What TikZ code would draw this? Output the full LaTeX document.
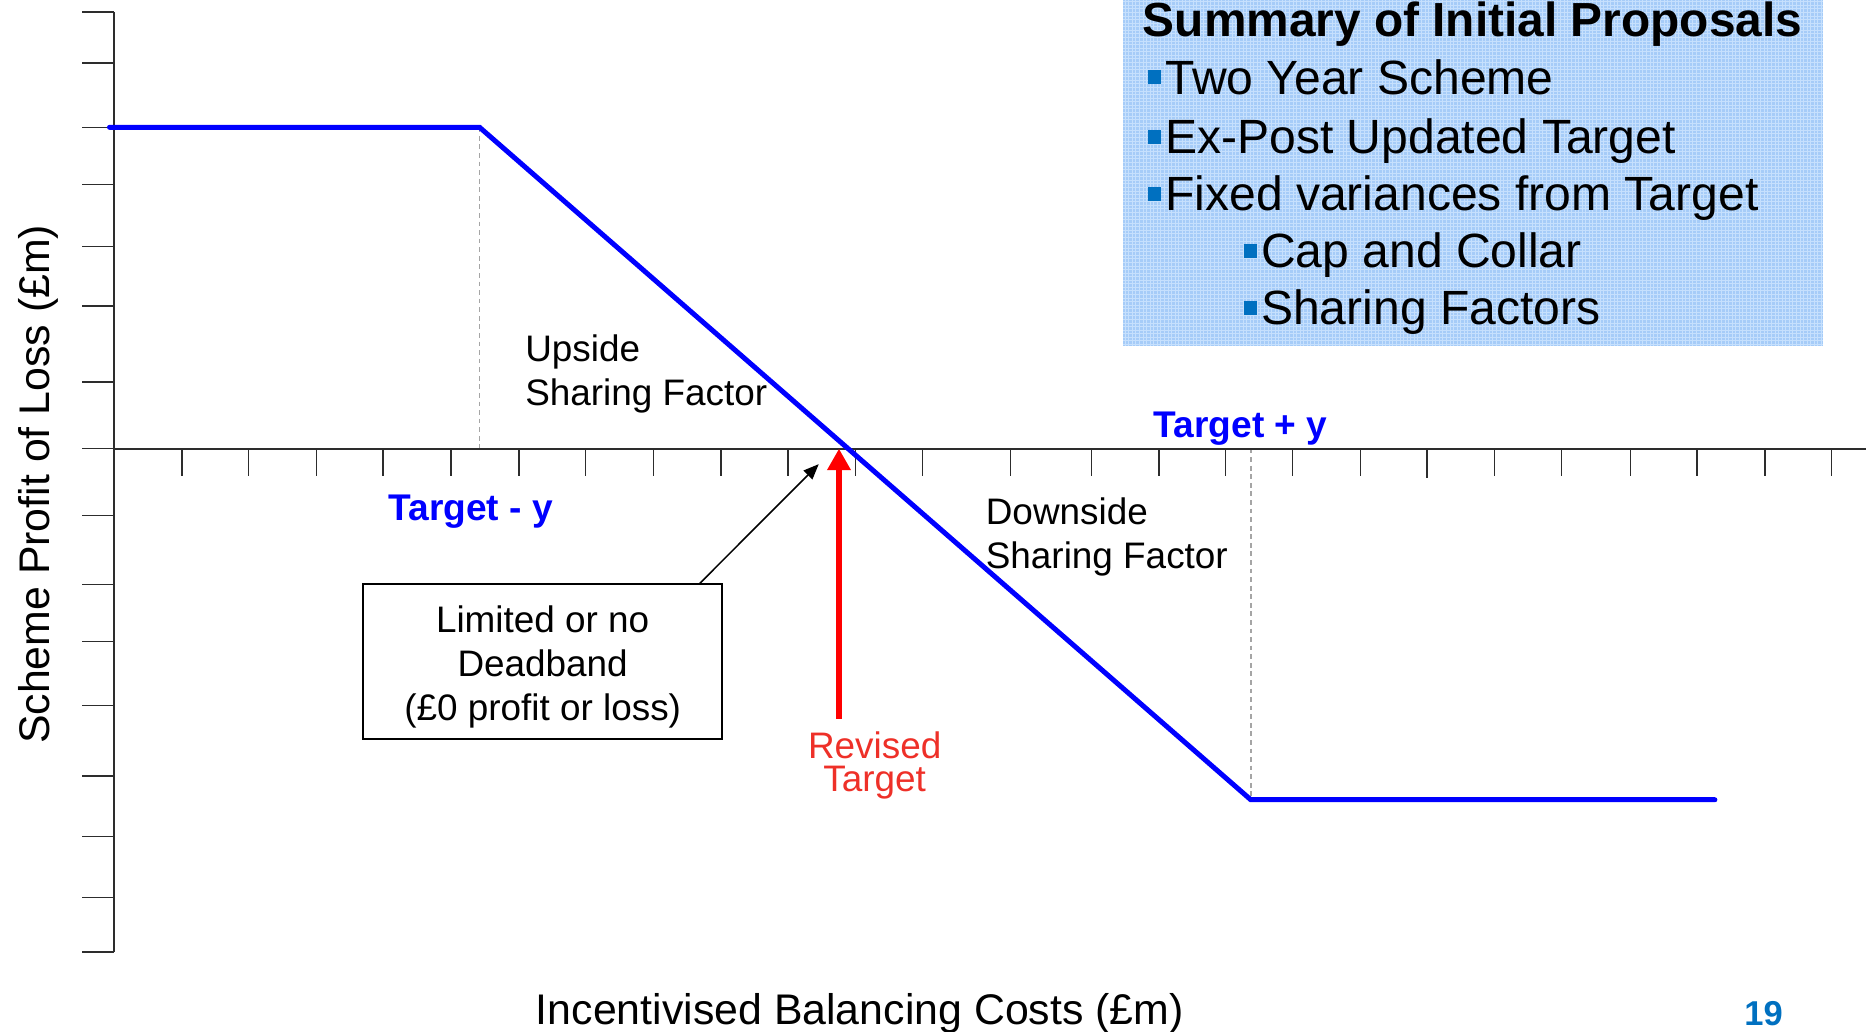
\documentclass[tikz,border=0pt]{standalone}
\usepackage{fontspec}
\setmainfont{Liberation Sans}
\usetikzlibrary{arrows.meta}
\definecolor{axisgray}{RGB}{45,45,45}
\definecolor{dashgray}{RGB}{165,165,165}
\definecolor{curveblue}{RGB}{0,0,255}
\definecolor{arrowred}{RGB}{255,0,0}
\definecolor{revred}{RGB}{238,48,40}
\definecolor{pageblue}{RGB}{0,112,192}
\definecolor{bulletblue}{RGB}{0,112,192}
\definecolor{boxblue}{RGB}{166,204,248}
\definecolor{boxgrid}{RGB}{198,224,253}
\newcommand{\sqbullet}{{\color{bulletblue}\rule[4pt]{5.6pt}{6pt}}\hspace{1.8pt}}
\begin{document}
\begin{tikzpicture}[x=0.5pt,y=-0.5pt,
  axisline/.style={draw=axisgray,line width=0.8pt},
  tickline/.style={draw=axisgray,line width=0.6pt},
  guide/.style={draw=dashgray,line width=0.65pt,dash pattern=on 2pt off 1.6pt},
  curve/.style={draw=curveblue,line width=2.1pt,line cap=round,line join=miter},
  pointer/.style={draw=black,line width=0.65pt,-{Triangle[length=6.5pt,width=5.2pt]}},
  redarrow/.style={draw=arrowred,line width=2.3pt,-{Triangle[length=9pt,width=9.4pt]}},
  lbl/.style={inner sep=0pt,font=\fontsize{15.5}{18.5}\selectfont,align=left},
  bluelbl/.style={inner sep=0pt,anchor=base west,font=\fontsize{15.6}{18.5}\selectfont\bfseries,text=curveblue},
  deadbox/.style={draw=black,line width=0.75pt,minimum width=151pt,minimum height=65pt,inner sep=0pt,align=center,font=\fontsize{15.5}{18.5}\selectfont},
  revlbl/.style={inner sep=0pt,align=center,text=revred,font=\fontsize{15.5}{14}\selectfont},
  axislbl/.style={inner sep=0pt,anchor=base,font=\fontsize{18}{21}\selectfont},
  summarybox/.style={fill=boxblue,draw=none,minimum width=294pt,minimum height=145.5pt,inner sep=0pt},
  gridline/.style={draw=boxgrid,line width=0.4pt},
  sumtitle/.style={inner sep=0pt,anchor=base west,font=\fontsize{20.1}{24}\selectfont\bfseries},
  sumitem/.style={inner sep=0pt,anchor=base west,font=\fontsize{20.2}{24}\selectfont},
  pagenum/.style={inner sep=0pt,anchor=base,text=pageblue,font=\fontsize{14.5}{17}\selectfont\bfseries}
]
\useasboundingbox (0,0) rectangle (1568,867);

% summary box
\node[summarybox] (summary) at (1238,145.5) {};
\begin{scope}
  \clip (summary.north west) rectangle (summary.south east);
  \foreach \gx in {945.5,948.5,...,1532} \draw[gridline] (\gx,0) -- (\gx,291);
  \foreach \gy in {1.5,4.5,...,291} \draw[gridline] (944,\gy) -- (1532,\gy);
\end{scope}
\node[sumtitle] (sumhead) at (960,31) {Summary of Initial Proposals};
\node[sumitem] (itemone) at (964,79) {\sqbullet Two Year Scheme};
\node[sumitem] (itemtwo) at (964,129) {\sqbullet Ex-Post Updated Target};
\node[sumitem] (itemthree) at (964,177) {\sqbullet Fixed variances from Target};
\node[sumitem] (itemfour) at (1044.5,225) {\sqbullet Cap and Collar};
\node[sumitem] (itemfive) at (1044.5,273) {\sqbullet Sharing Factors};

% guides
\coordinate (capknee) at (403,107);
\coordinate (collarknee) at (1051,672);
\coordinate (capfoot) at (403,377);
\coordinate (collarhead) at (1051,377);
\draw[guide] (capknee) -- (capfoot);
\draw[guide] (collarhead) -- (collarknee);

% axes
\draw[axisline] (96,10) -- (96,800);
\draw[axisline] (96,377) -- (1568,377);
\foreach \yy in {10,53,107,155,207,257,321,377,433,491,539,593,652,703,754,800}
  \draw[tickline] (69,\yy) -- (96,\yy);
\foreach \xx in {153,209,266,322,379,436,492,549,606,662,719,775,849,917,974,1030,1086,1143,1256,1312,1370,1426,1483,1539}
  \draw[tickline] (\xx,377) -- (\xx,400);
\draw[tickline] (1199,377) -- (1199,402);

% profit / loss curve
\coordinate (capstart) at (92,107);
\coordinate (collarend) at (1441,672);
\draw[curve] (capstart) -- (capknee) -- (collarknee) -- (collarend);

% labels
\node[lbl,anchor=west] (upside) at (441,314.5) {Upside\\Sharing Factor};
\node[lbl,anchor=west] (downside) at (828,451) {Downside\\Sharing Factor};
\node[bluelbl] (tminus) at (326,437) {Target - y};
\node[bluelbl] (tplus) at (969,368) {Target + y};

% deadband box and pointer
\node[deadbox] (deadband) at (456,556) {\rule{0pt}{15.3pt}Limited or no\\Deadband\\(£0 profit or loss)};
\coordinate (deadtip) at (688,390);
\draw[pointer] ([xshift=66pt]deadband.north) -- (deadtip);

% revised target
\coordinate (revbase) at (705,604);
\coordinate (revtip) at (705,377);
\draw[redarrow] (revbase) -- (revtip);
\node[revlbl] (revised) at (735,643) {Revised\\Target};

% axis titles
\node[axislbl,rotate=90] (ytitle) at (42,407) {Scheme Profit of Loss (£m)};
\node[axislbl] (xtitle) at (722.5,861) {Incentivised Balancing Costs (£m)};
\node[pagenum] (pageno) at (1482,862) {19};
\end{tikzpicture}
\end{document}
